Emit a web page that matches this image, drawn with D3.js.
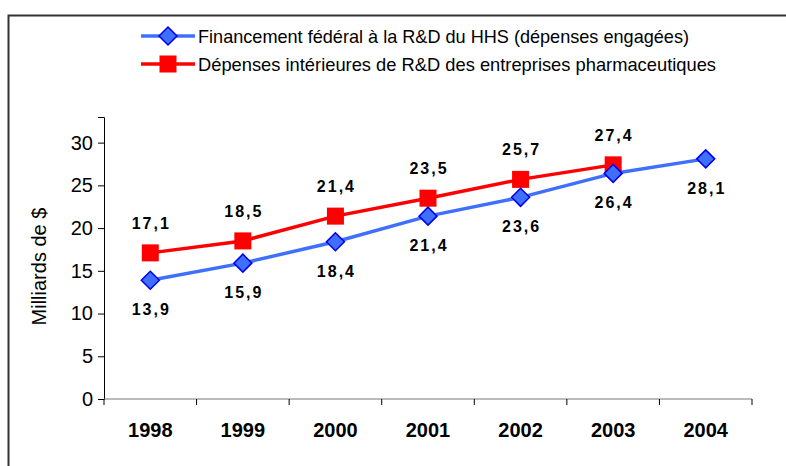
<!DOCTYPE html>
<html>
<head>
<meta charset="utf-8">
<script src="https://cdn.jsdelivr.net/npm/d3@7"></script>
<style>
  body { margin: 0; background: #fff; }
  text { font-family: "Liberation Sans", Arial, sans-serif; }
</style>
</head>
<body>
<script>
const years = ["1998", "1999", "2000", "2001", "2002", "2003", "2004"];
const hhsValues = [13.9, 15.9, 18.4, 21.4, 23.6, 26.4, 28.1];
const pharmaValues = [17.1, 18.5, 21.4, 23.5, 25.7, 27.4];
const yTicks = [0, 5, 10, 15, 20, 25, 30];
const seriesNames = [
  "Financement fédéral à la R&D du HHS (dépenses engagées)",
  "Dépenses intérieures de R&D des entreprises pharmaceutiques"
];

const width = 786, height = 466;
const svg = d3.select("body").append("svg")
    .attr("width", width)
    .attr("height", height);

// outer frame (top + left only visible)
svg.append("path")
    .attr("d", `M8.5,${height} V15.5 H${width}`)
    .attr("fill", "none")
    .attr("stroke", "#333")
    .attr("stroke-width", 2);

const margin = { left: 104, right: 34, top: 117, bottom: 67 };
const x = d3.scaleBand()
    .domain(years)
    .range([margin.left, width - margin.right]);
const y = d3.scaleLinear()
    .domain([0, 33])
    .range([height - margin.bottom, margin.top]);

// y axis
const yAxis = svg.append("g")
    .attr("transform", `translate(${margin.left},0)`)
    .call(d3.axisLeft(y).tickValues(yTicks).tickSize(6).tickPadding(5));
yAxis.select(".domain").attr("stroke", "#000");
yAxis.selectAll(".tick line").attr("stroke", "#000");
yAxis.selectAll("text")
    .attr("font-size", 20)
    .attr("fill", "#000");

// x axis
const xAxis = svg.append("g")
    .attr("transform", `translate(0,${y(0)})`)
    .call(d3.axisBottom(x).tickSize(0).tickPadding(24));
xAxis.select(".domain").attr("stroke", "#777").attr("d", `M${margin.left},0H${width - margin.right}`);
xAxis.selectAll(".tick line").remove();
xAxis.selectAll("text")
    .attr("font-size", 20)
    .attr("font-weight", "bold")
    .attr("fill", "#000");
// boundary ticks between categories
svg.append("g")
    .selectAll("line")
    .data(years.concat(["end"]))
    .enter().append("line")
    .attr("x1", (d, i) => margin.left + i * x.step())
    .attr("x2", (d, i) => margin.left + i * x.step())
    .attr("y1", y(0))
    .attr("y2", y(0) + 6)
    .attr("stroke", "#000");

// y title
svg.append("text")
    .attr("transform", `translate(46,${y(15.5)}) rotate(-90)`)
    .attr("text-anchor", "middle")
    .attr("font-size", 20)
    .text("Milliards de $");

const cx = d => x(d) + x.bandwidth() / 2;

const line = d3.line()
    .x(d => cx(d.year))
    .y(d => y(d.value));

const hhs = hhsValues.map((v, i) => ({ year: years[i], value: v }));
const pharma = pharmaValues.map((v, i) => ({ year: years[i], value: v }));

// lines
svg.append("path")
    .datum(pharma)
    .attr("fill", "none")
    .attr("stroke", "#ff0000")
    .attr("stroke-width", 3.5)
    .attr("d", line);

svg.append("path")
    .datum(hhs)
    .attr("fill", "none")
    .attr("stroke", "#3f6fff")
    .attr("stroke-width", 3.5)
    .attr("d", line);

// markers
function diamond(g, px, py) {
  g.append("path")
      .attr("d", `M${px},${py - 9}L${px + 9},${py}L${px},${py + 9}L${px - 9},${py}Z`)
      .attr("fill", "#3f6fff")
      .attr("stroke", "#0000ee")
      .attr("stroke-width", 1.5);
}
function square(g, px, py) {
  g.append("rect")
      .attr("x", px - 8.5)
      .attr("y", py - 8.5)
      .attr("width", 17)
      .attr("height", 17)
      .attr("fill", "#ff0000");
}

const marks = svg.append("g");
pharma.forEach(d => square(marks, cx(d.year), y(d.value)));
hhs.forEach(d => diamond(marks, cx(d.year), y(d.value)));

// data labels
const fmt = v => d3.format(".1f")(v).replace(".", ",");
svg.append("g")
    .selectAll("text")
    .data(pharma)
    .enter().append("text")
    .attr("x", d => cx(d.year) + 1)
    .attr("y", d => y(d.value) - 24)
    .attr("text-anchor", "middle")
    .attr("font-size", 16)
    .attr("font-weight", "bold")
    .attr("letter-spacing", 2)
    .text(d => fmt(d.value));

svg.append("g")
    .selectAll("text")
    .data(hhs)
    .enter().append("text")
    .attr("x", d => cx(d.year) + 1)
    .attr("y", d => y(d.value) + 35)
    .attr("text-anchor", "middle")
    .attr("font-size", 16)
    .attr("font-weight", "bold")
    .attr("letter-spacing", 2)
    .text(d => fmt(d.value));

// legend
const legend = svg.append("g");
const legendY = [36, 64];
seriesNames.forEach((name, i) => {
  const ly = legendY[i];
  legend.append("line")
      .attr("x1", 141).attr("x2", 195)
      .attr("y1", ly).attr("y2", ly)
      .attr("stroke", i === 0 ? "#3f6fff" : "#ff0000")
      .attr("stroke-width", 3.5);
  if (i === 0) diamond(legend, 168, ly);
  else square(legend, 168, ly);
  legend.append("text")
      .attr("x", 198)
      .attr("y", ly)
      .attr("dy", "0.35em")
      .attr("font-size", 19)
      .attr("textLength", i === 0 ? 491 : 518)
      .attr("lengthAdjust", "spacingAndGlyphs")
      .text(name);
});
</script>
</body>
</html>
